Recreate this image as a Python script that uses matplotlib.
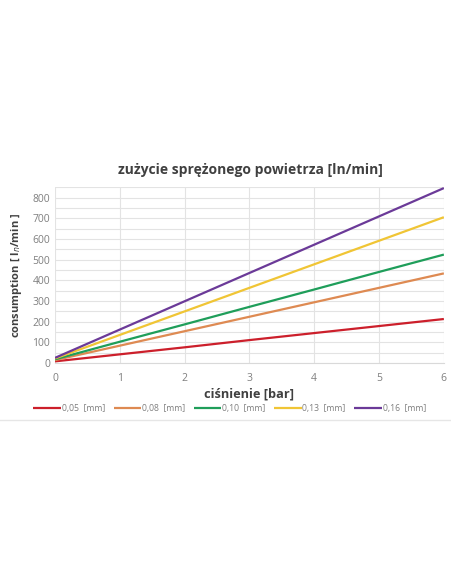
import matplotlib
matplotlib.use("Agg")
import matplotlib.pyplot as plt
from matplotlib.lines import Line2D
import numpy as np

# ---- data ----
pressure = [0, 1, 2, 3, 4, 5, 6]
labels = ["0,05  [mm]", "0,08  [mm]", "0,10  [mm]", "0,13  [mm]", "0,16  [mm]"]
d005 = [8, 42, 76, 111, 145, 179, 213]
d008 = [14, 84, 154, 224, 294, 364, 434]
d010 = [18, 103, 187, 272, 356, 441, 525]
d013 = [22, 136, 250, 364, 478, 592, 706]
d016 = [25, 162, 299, 436, 573, 710, 847]
series = [d005, d008, d010, d013, d016]
colors = ["#cc1f2b", "#de8a52", "#1f9e5a", "#f0c535", "#6b3a98"]

INK = "#404040"
TICK = "#7f7f7f"
GRID = "#e3e3e3"

plt.rcParams["font.family"] = ["Open Sans", "DejaVu Sans"]

fig = plt.figure(figsize=(4.52, 5.84), dpi=100)
fig.patch.set_facecolor("white")
ax = fig.add_axes([0.1217, 0.3784, 0.8603, 0.3006])

for vals, col, lab in zip(series, colors, labels):
    ax.plot(pressure, vals, color=col, lw=1.6, label=lab, solid_capstyle="butt")

ax.set_xlim(0, 6)
ax.set_ylim(0, 850)
ax.set_xticks(range(7))
ax.set_yticks(np.arange(0, 801, 100))
ax.set_yticks(np.arange(50, 851, 50), minor=True)
ax.grid(which="both", color=GRID, lw=0.8)
ax.set_axisbelow(True)
ax.tick_params(which="both", length=0, colors=TICK, labelsize=7.5)
ax.tick_params(axis="x", pad=7)
for s in ax.spines.values():
    s.set_visible(False)
ax.spines["bottom"].set_visible(True)
ax.spines["bottom"].set_color("#d9d9d9")

fig.text(0.553, 0.709, "zużycie sprężonego powietrza [ln/min]", ha="center", va="center",
         fontsize=10, color=INK, fontweight="bold")
ax.set_xlabel("ciśnienie [bar]", fontsize=9.2, color=INK, fontweight="bold", labelpad=3)
ax.set_ylabel("consumption [ l$_n$/min ]", fontsize=8, color=INK, fontweight="bold", labelpad=6)

leg = fig.legend(loc="center", bbox_to_anchor=(0.508, 0.301), ncol=5, frameon=False,
                 fontsize=6.2, handlelength=3.2, handletextpad=0.1, columnspacing=1.0,
                 labelcolor=TICK)

fig.add_artist(Line2D([0, 1], [0.281, 0.281], transform=fig.transFigure,
                      color="#e6e6e6", lw=1))

fig.savefig("out.png", dpi=100, facecolor="white")
